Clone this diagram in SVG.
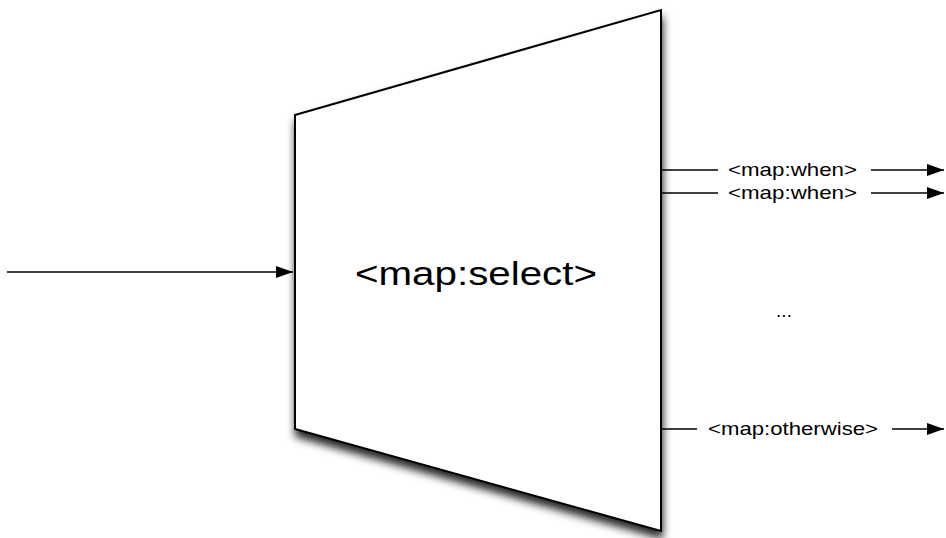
<svg xmlns="http://www.w3.org/2000/svg" width="946" height="538" viewBox="0 0 946 538">
  <style>
    .edge { stroke: #000; stroke-width: 1.5; fill: none; }
    .lbl { font-family: "Liberation Sans", Arial, sans-serif; font-size: 19px; fill: #000; }
    .title { font-family: "Liberation Sans", Arial, sans-serif; font-size: 34px; fill: #000; }
  </style>
  <defs>
    <marker id="arrow" viewBox="0 0 17 12" refX="17" refY="6" markerWidth="17" markerHeight="12" markerUnits="userSpaceOnUse" orient="auto">
      <path d="M0,0 L17,6 L0,12 Z" fill="#000"/>
    </marker>
    <filter id="shadow" x="-10%" y="-10%" width="120%" height="125%">
      <feDropShadow dx="1" dy="7" stdDeviation="4" flood-color="#000" flood-opacity="0.85"/>
    </filter>
  </defs>

  <rect width="946" height="538" fill="#fff"/>

  <!-- selector node -->
  <g id="select">
    <polygon points="295,115 661,10 661,531 295,429" fill="#fff" stroke="#000" stroke-width="2" filter="url(#shadow)"/>
    <text class="title" x="476" y="285" text-anchor="middle" textLength="242" lengthAdjust="spacingAndGlyphs">&lt;map:select&gt;</text>
  </g>

  <!-- connectors -->
  <g id="connectors">
    <line class="edge" x1="7" y1="272" x2="293" y2="272" marker-end="url(#arrow)"/>
    <line class="edge" x1="662" y1="170" x2="718" y2="170"/>
    <line class="edge" x1="871" y1="170" x2="944" y2="170" marker-end="url(#arrow)"/>
    <line class="edge" x1="662" y1="193" x2="718" y2="193"/>
    <line class="edge" x1="871" y1="193" x2="944" y2="193" marker-end="url(#arrow)"/>
    <line class="edge" x1="662" y1="429" x2="697" y2="429"/>
    <line class="edge" x1="892" y1="429" x2="944" y2="429" marker-end="url(#arrow)"/>
  </g>

  <!-- branch labels -->
  <g id="when1">
    <text class="lbl" x="792.5" y="176" text-anchor="middle" textLength="129" lengthAdjust="spacingAndGlyphs">&lt;map:when&gt;</text>
  </g>
  <g id="when2">
    <text class="lbl" x="792.5" y="199" text-anchor="middle" textLength="129" lengthAdjust="spacingAndGlyphs">&lt;map:when&gt;</text>
  </g>
  <g id="ellipsis">
    <text class="lbl" x="784" y="317" text-anchor="middle">...</text>
  </g>
  <g id="otherwise">
    <text class="lbl" x="793" y="435" text-anchor="middle" textLength="170" lengthAdjust="spacingAndGlyphs">&lt;map:otherwise&gt;</text>
  </g>
</svg>
